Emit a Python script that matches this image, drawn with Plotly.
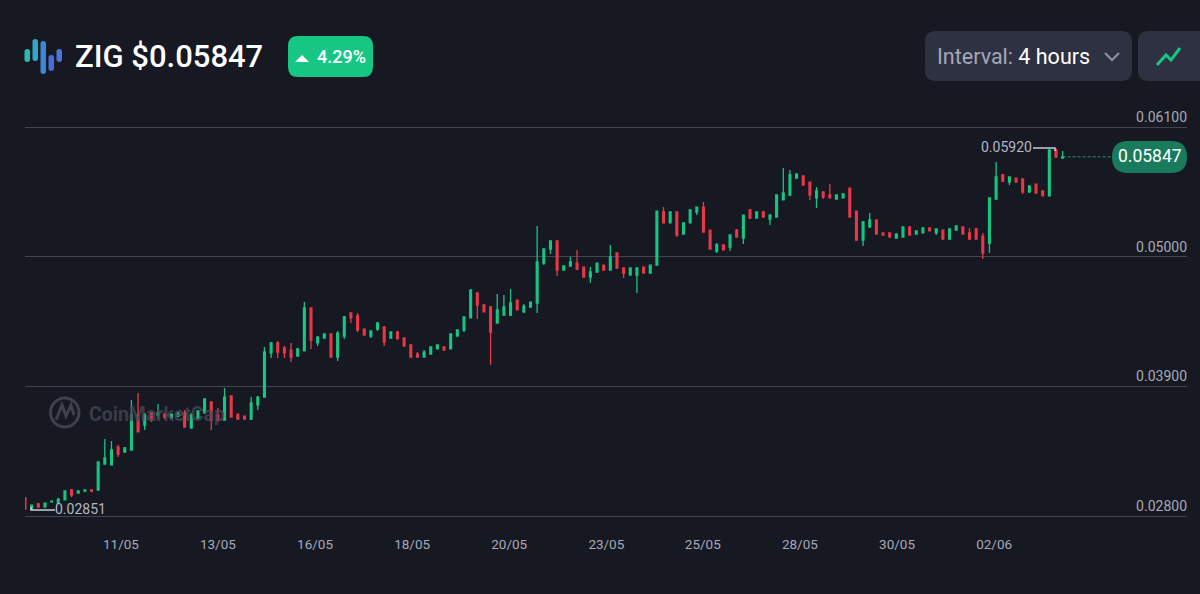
import plotly.graph_objects as go

W, H = 1200, 594

# 4 hour candles
opens = [0.02953, 0.02859, 0.02902, 0.02876, 0.02919, 0.02910, 0.02936, 0.03021, 0.02995, 0.03012,
         0.03021, 0.03021, 0.03241, 0.03233, 0.03385, 0.03343, 0.03360, 0.03657, 0.03572, 0.03674,
         0.03657, 0.03665, 0.03631, 0.03648, 0.03674, 0.03546, 0.03631, 0.03674, 0.03767, 0.03657,
         0.03614, 0.03818, 0.03665, 0.03648, 0.03623, 0.03742, 0.03809, 0.04183, 0.04268, 0.04225,
         0.04208, 0.04157, 0.04200, 0.04565, 0.04268, 0.04310, 0.04344, 0.04149, 0.04327, 0.04522,
         0.04497, 0.04386, 0.04327, 0.04386, 0.04403, 0.04310, 0.04361, 0.04310, 0.04251, 0.04174,
         0.04149, 0.04174, 0.04217, 0.04234, 0.04217, 0.04327, 0.04378, 0.04480, 0.04692, 0.04590,
         0.04573, 0.04437, 0.04505, 0.04505, 0.04632, 0.04531, 0.04573, 0.04607, 0.04946, 0.05065,
         0.05133, 0.04887, 0.04921, 0.04946, 0.04912, 0.04827, 0.04870, 0.04929, 0.04887, 0.05031,
         0.04904, 0.04844, 0.04844, 0.04912, 0.04861, 0.04929, 0.05379, 0.05286, 0.05379, 0.05192,
         0.05286, 0.05379, 0.05421, 0.05226, 0.05048, 0.05099, 0.05082, 0.05226, 0.05158, 0.05396,
         0.05328, 0.05379, 0.05319, 0.05336, 0.05481, 0.05523, 0.05667, 0.05684, 0.05633, 0.05498,
         0.05549, 0.05523, 0.05489, 0.05498, 0.05582, 0.05387, 0.05141, 0.05252, 0.05311, 0.05201,
         0.05201, 0.05158, 0.05167, 0.05252, 0.05192, 0.05201, 0.05243, 0.05201, 0.05226, 0.05150,
         0.05226, 0.05252, 0.05201, 0.05235, 0.05175, 0.05116, 0.05489, 0.05693, 0.05633, 0.05667,
         0.05659, 0.05549, 0.05616, 0.05557, 0.05515, 0.05905, 0.05837]
highs = [0.02961, 0.02893, 0.02910, 0.02910, 0.02927, 0.02953, 0.03012, 0.03029, 0.03012, 0.03021,
         0.03021, 0.03258, 0.03453, 0.03436, 0.03402, 0.03385, 0.03784, 0.03843, 0.03674, 0.03674,
         0.03750, 0.03674, 0.03665, 0.03682, 0.03699, 0.03674, 0.03691, 0.03793, 0.03767, 0.03716,
         0.03886, 0.03818, 0.03665, 0.03648, 0.03809, 0.03818, 0.04234, 0.04276, 0.04285, 0.04242,
         0.04268, 0.04225, 0.04615, 0.04565, 0.04327, 0.04344, 0.04344, 0.04369, 0.04497, 0.04522,
         0.04522, 0.04386, 0.04378, 0.04446, 0.04412, 0.04361, 0.04361, 0.04310, 0.04251, 0.04191,
         0.04208, 0.04234, 0.04251, 0.04234, 0.04344, 0.04378, 0.04488, 0.04726, 0.04692, 0.04590,
         0.04581, 0.04683, 0.04675, 0.04726, 0.04632, 0.04598, 0.04615, 0.05260, 0.05065, 0.05133,
         0.05133, 0.04921, 0.04997, 0.05057, 0.04912, 0.04912, 0.04946, 0.04929, 0.05099, 0.05031,
         0.04904, 0.04904, 0.04904, 0.04912, 0.04929, 0.05387, 0.05421, 0.05379, 0.05379, 0.05286,
         0.05396, 0.05421, 0.05464, 0.05226, 0.05116, 0.05099, 0.05184, 0.05235, 0.05353, 0.05404,
         0.05379, 0.05387, 0.05362, 0.05523, 0.05752, 0.05735, 0.05710, 0.05693, 0.05633, 0.05591,
         0.05557, 0.05616, 0.05523, 0.05532, 0.05582, 0.05387, 0.05303, 0.05370, 0.05311, 0.05201,
         0.05201, 0.05201, 0.05252, 0.05252, 0.05218, 0.05243, 0.05243, 0.05235, 0.05226, 0.05235,
         0.05260, 0.05252, 0.05243, 0.05243, 0.05201, 0.05498, 0.05803, 0.05701, 0.05676, 0.05667,
         0.05659, 0.05608, 0.05616, 0.05557, 0.05905, 0.05920, 0.05896]
lows = [0.02859, 0.02851, 0.02876, 0.02876, 0.02919, 0.02910, 0.02936, 0.02961, 0.02995, 0.03012,
        0.03004, 0.03012, 0.03241, 0.03233, 0.03301, 0.03334, 0.03360, 0.03513, 0.03530, 0.03597,
        0.03623, 0.03623, 0.03631, 0.03640, 0.03555, 0.03546, 0.03623, 0.03665, 0.03530, 0.03597,
        0.03614, 0.03640, 0.03623, 0.03623, 0.03614, 0.03699, 0.03809, 0.04140, 0.04140, 0.04140,
        0.04106, 0.04157, 0.04200, 0.04217, 0.04242, 0.04310, 0.04149, 0.04115, 0.04302, 0.04437,
        0.04361, 0.04335, 0.04310, 0.04369, 0.04242, 0.04310, 0.04302, 0.04242, 0.04149, 0.04149,
        0.04149, 0.04174, 0.04217, 0.04208, 0.04217, 0.04327, 0.04361, 0.04480, 0.04471, 0.04531,
        0.04081, 0.04437, 0.04505, 0.04497, 0.04548, 0.04522, 0.04573, 0.04522, 0.04929, 0.05023,
        0.04836, 0.04887, 0.04921, 0.04887, 0.04827, 0.04777, 0.04870, 0.04887, 0.04887, 0.04904,
        0.04819, 0.04844, 0.04692, 0.04861, 0.04861, 0.04929, 0.05286, 0.05286, 0.05167, 0.05192,
        0.05286, 0.05353, 0.05209, 0.05065, 0.05031, 0.05057, 0.05048, 0.05167, 0.05107, 0.05319,
        0.05328, 0.05336, 0.05269, 0.05336, 0.05481, 0.05515, 0.05659, 0.05608, 0.05481, 0.05413,
        0.05489, 0.05498, 0.05489, 0.05498, 0.05336, 0.05141, 0.05090, 0.05243, 0.05192, 0.05184,
        0.05167, 0.05158, 0.05167, 0.05184, 0.05192, 0.05201, 0.05218, 0.05184, 0.05150, 0.05150,
        0.05226, 0.05192, 0.05150, 0.05150, 0.04980, 0.05031, 0.05489, 0.05633, 0.05608, 0.05633,
        0.05532, 0.05540, 0.05540, 0.05515, 0.05515, 0.05845, 0.05837]
closes = [0.02859, 0.02893, 0.02876, 0.02910, 0.02927, 0.02944, 0.03012, 0.02978, 0.03012, 0.03021,
          0.03012, 0.03258, 0.03292, 0.03360, 0.03326, 0.03377, 0.03657, 0.03513, 0.03657, 0.03614,
          0.03674, 0.03640, 0.03665, 0.03674, 0.03555, 0.03657, 0.03691, 0.03793, 0.03614, 0.03614,
          0.03809, 0.03640, 0.03623, 0.03623, 0.03759, 0.03809, 0.04191, 0.04268, 0.04191, 0.04183,
          0.04149, 0.04217, 0.04565, 0.04293, 0.04318, 0.04344, 0.04149, 0.04352, 0.04488, 0.04480,
          0.04378, 0.04335, 0.04369, 0.04437, 0.04276, 0.04361, 0.04302, 0.04242, 0.04149, 0.04149,
          0.04191, 0.04234, 0.04251, 0.04208, 0.04344, 0.04378, 0.04488, 0.04717, 0.04590, 0.04531,
          0.04361, 0.04548, 0.04573, 0.04607, 0.04548, 0.04581, 0.04615, 0.04955, 0.05065, 0.05133,
          0.04887, 0.04921, 0.04955, 0.04895, 0.04827, 0.04870, 0.04946, 0.04887, 0.04997, 0.04904,
          0.04861, 0.04904, 0.04904, 0.04861, 0.04929, 0.05387, 0.05286, 0.05379, 0.05184, 0.05286,
          0.05396, 0.05421, 0.05209, 0.05065, 0.05099, 0.05057, 0.05184, 0.05167, 0.05353, 0.05328,
          0.05379, 0.05336, 0.05353, 0.05523, 0.05540, 0.05693, 0.05701, 0.05608, 0.05523, 0.05557,
          0.05506, 0.05498, 0.05523, 0.05532, 0.05336, 0.05141, 0.05294, 0.05311, 0.05192, 0.05184,
          0.05167, 0.05192, 0.05252, 0.05184, 0.05218, 0.05243, 0.05218, 0.05235, 0.05150, 0.05235,
          0.05260, 0.05192, 0.05150, 0.05150, 0.05031, 0.05498, 0.05676, 0.05642, 0.05676, 0.05633,
          0.05549, 0.05599, 0.05540, 0.05515, 0.05905, 0.05845, 0.05847]

candle_idx = list(range(len(opens)))

date_labels = ["11/05", "13/05", "16/05", "18/05", "20/05", "23/05", "25/05", "28/05", "30/05", "02/06"]
date_ticks = [14.43, 29.0, 43.6, 58.2, 72.8, 87.4, 101.9, 116.5, 131.1, 145.7]
price_ticks = [0.028, 0.039, 0.05, 0.061]
price_labels = ["0.02800", "0.03900", "0.05000", "0.06100"]

last_price = 0.05847
high_price = 0.05920
low_price = 0.02851

BG = "#161822"
GRID = "#42454f"
GREEN = "#16c784"
RED = "#e8394a"
LABEL = "#a6aab8"
BTN = "#2e3141"


def xp(x):
    return x / W


def yp(y):
    return 1 - y / H


def round_rect(x0, y0, x1, y1, r, fill, layer="above"):
    # rounded box in pixels, turned into paper coords
    pts = [("M", x0 + r, y0), ("L", x1 - r, y0), ("Q", x1, y0, x1, y0 + r), ("L", x1, y1 - r),
           ("Q", x1, y1, x1 - r, y1), ("L", x0 + r, y1), ("Q", x0, y1, x0, y1 - r), ("L", x0, y0 + r),
           ("Q", x0, y0, x0 + r, y0)]
    path = ""
    for p in pts:
        coords = [f"{xp(p[i]):.5f},{yp(p[i + 1]):.5f}" for i in range(1, len(p), 2)]
        path += p[0] + " ".join(coords) + " "
    return dict(type="path", xref="paper", yref="paper", path=path + "Z", fillcolor=fill,
                line=dict(width=0), layer=layer)


def poly(points, color, width):
    path = "M" + " L".join(f"{xp(a):.5f},{yp(b):.5f}" for a, b in points)
    return dict(type="path", xref="paper", yref="paper", path=path, line=dict(color=color, width=width))


def label(x, y, text, size, color, anchor="left", weight=400):
    return dict(x=xp(x), y=yp(y), xref="paper", yref="paper", text=text, showarrow=False, xanchor=anchor,
                yanchor="middle", font=dict(family="Roboto", size=size, color=color, weight=weight))


fig = go.Figure(go.Candlestick(x=candle_idx, open=opens, high=highs, low=lows, close=closes,
                               increasing=dict(line=dict(color=GREEN, width=1.3), fillcolor=GREEN),
                               decreasing=dict(line=dict(color=RED, width=1.3), fillcolor=RED),
                               whiskerwidth=0, hoverinfo="skip", showlegend=False))

shapes = [
    # logo bars
    round_rect(24.5, 49, 30, 62, 2.7, "#2fb8ae"),
    round_rect(32.5, 39, 38, 61, 2.7, "#2ea8c6"),
    round_rect(40.5, 41, 46, 74, 2.7, "#3a86d8"),
    round_rect(48.5, 55, 54, 71, 2.7, "#4a6bd6"),
    round_rect(56.5, 49, 62, 62, 2.7, "#4f74d8"),
    # change badge
    round_rect(288, 36, 373, 77, 10, GREEN),
    dict(type="path", xref="paper", yref="paper", fillcolor="#ffffff", line=dict(width=0),
         path=f"M{xp(295)},{yp(62)} L{xp(309)},{yp(62)} L{xp(302)},{yp(55)} Z"),
    # buttons
    round_rect(925, 31, 1132, 81, 11, BTN),
    round_rect(1138, 31, 1212, 81, 11, BTN),
    poly([(1105, 53), (1112, 60), (1119, 53)], "#8f93a3", 2),
    poly([(1157, 65), (1166, 55), (1171, 60), (1180, 48)], GREEN, 3),
    # watermark
    dict(type="circle", xref="paper", yref="paper", x0=xp(50.5), x1=xp(79), y0=yp(398), y1=yp(427),
         line=dict(color="#3e414d", width=3), layer="below"),
    poly([(56, 420), (62, 405), (66, 416), (71, 405), (74, 415)], "#3e414d", 3),
    # last price
    dict(type="line", xref="x", yref="y", x0=156, x1=175, y0=last_price, y1=last_price,
         line=dict(color="#1f9a72", width=1, dash="3px,2px")),
    round_rect(1112, 141, 1187, 173, 16, "#1a7a5c"),
    # high and low markers
    dict(type="path", xref="paper", yref="paper", path=f"M{xp(1033)},{yp(148)} L{xp(1055)},{yp(148)} L{xp(1055)},{yp(151)}",
         line=dict(color="#c9ccd6", width=1.5)),
    dict(type="path", xref="paper", yref="paper", path=f"M{xp(55)},{yp(510)} L{xp(31)},{yp(510)} L{xp(31)},{yp(507)}",
         line=dict(color="#c9ccd6", width=1.5)),
]

annotations = [
    label(73, 57, "ZIG $0.05847", 31, "#ffffff", weight=500),
    label(315, 57, "4.29%", 18, "#ffffff", weight=500),
    label(935, 57, f'<span style="color:#a4a8b8">Interval:</span> 4 hours', 21.5, "#ffffff"),
    label(87, 414, "CoinMarketCap", 19.5, "rgba(70,73,86,0.75)", weight=700),
    label(1149.5, 156, f"{last_price:.5f}", 17.5, "#ffffff", anchor="center"),
    label(1034, 147, f"{high_price:.5f}", 14, "#b4b7c3", anchor="right"),
    label(53, 509, f"{low_price:.5f}", 14, "#b4b7c3"),
]

# 2 px of slack each side so the outer grid lines still get drawn
px_per_price = 389 / 0.033
slack = 2 / px_per_price

fig.update_layout(
    width=W, height=H,
    margin=dict(l=0, r=0, t=0, b=0, autoexpand=False),
    paper_bgcolor=BG, plot_bgcolor=BG,
    boxgap=0.62,
    showlegend=False,
    shapes=shapes,
    annotations=annotations,
    font=dict(family="Roboto"),
    xaxis=dict(domain=[25 / W, 1187 / W], range=[0, 174.7], rangeslider=dict(visible=False),
               tickmode="array", tickvals=date_ticks, ticktext=date_labels, showgrid=False, zeroline=False,
               showline=False, ticks="", ticklabelstandoff=16, fixedrange=True,
               tickfont=dict(family="Roboto", size=13.5, color=LABEL)),
    yaxis=dict(domain=[1 - 518 / H, 1 - 125 / H], range=[0.028 - slack, 0.061 + slack], side="right",
               anchor="free", position=1190 / W,
               tickmode="array", tickvals=price_ticks, ticktext=price_labels,
               ticklabelposition="inside top", ticklabeloverflow="allow", showgrid=True, gridcolor=GRID, gridwidth=1,
               zeroline=False, showline=False, ticks="", fixedrange=True,
               tickfont=dict(family="Roboto", size=14, color=LABEL)),
)

# the page margin would push the chart 8 px in
fig.write_html("out.html", config=dict(displayModeBar=False),
               post_script=f"document.body.style.margin='0';document.body.style.background='{BG}';document.documentElement.style.overflow='hidden';")
